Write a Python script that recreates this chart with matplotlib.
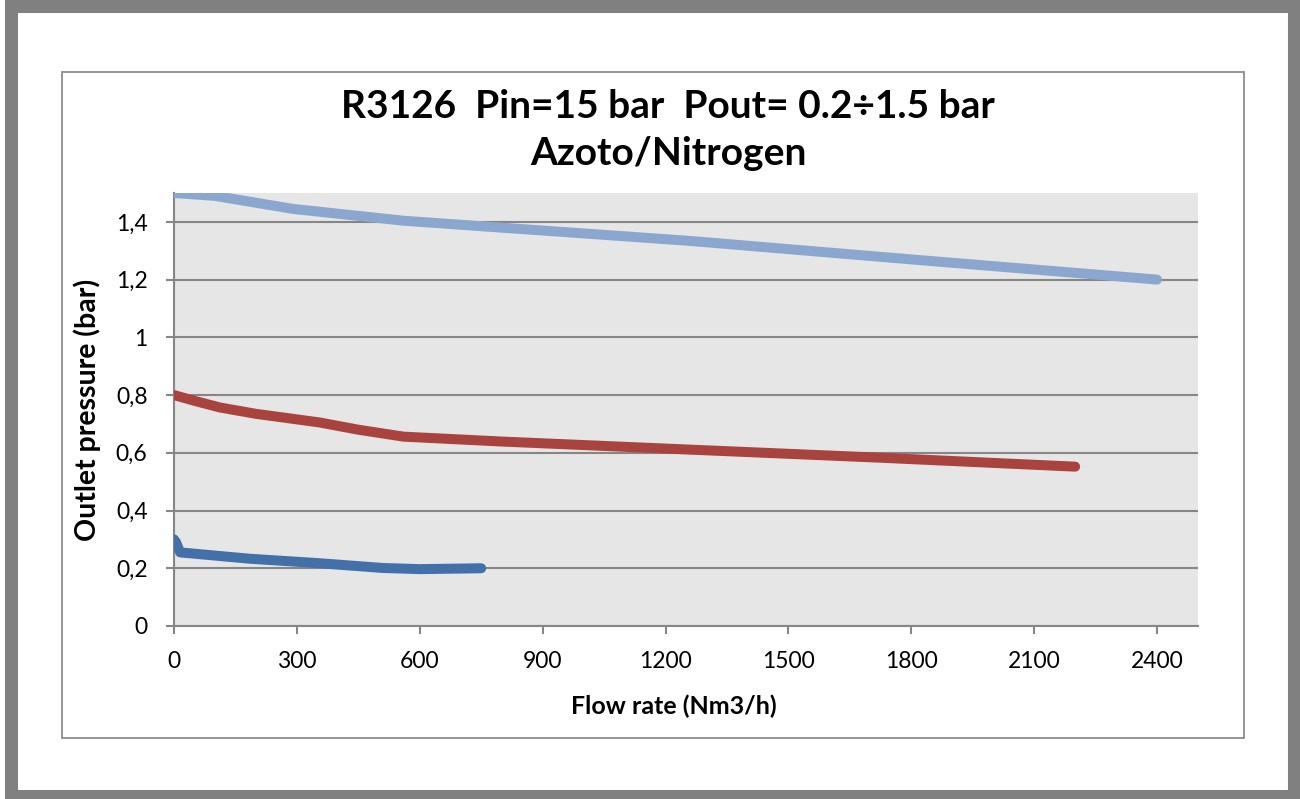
import matplotlib.pyplot as plt
import matplotlib.patches as mpatches
from matplotlib.ticker import FuncFormatter, MultipleLocator

plt.rcParams['font.family'] = ['Lato', 'DejaVu Sans']

# data
flow_15 = [0, 100, 290, 560, 900, 1260, 1800, 2400]
pout_15 = [1.5, 1.49, 1.445, 1.404, 1.37, 1.334, 1.27, 1.2]

flow_08 = [0, 50, 112, 200, 356, 450, 560, 800, 1260, 1724, 2200]
pout_08 = [0.8, 0.78, 0.757, 0.735, 0.705, 0.68, 0.656, 0.639, 0.611, 0.583, 0.552]

flow_02 = [0, 5, 15, 185, 350, 510, 600, 750]
pout_02 = [0.3, 0.29, 0.255, 0.233, 0.218, 0.201, 0.197, 0.2]

title = 'R3126  Pin=15 bar  Pout= 0.2÷1.5 bar\nAzoto/Nitrogen'

W, H = 1300, 799
fig = plt.figure(figsize=(W / 100, H / 100), dpi=100)

# outer thick frame and inner chart frame
fig.patches.append(mpatches.Rectangle((10.5 / W, 3 / H), (1293.5 - 10.5) / W, (793 - 3) / H,
                                      transform=fig.transFigure, fill=False,
                                      edgecolor='#808080', linewidth=9.4))
fig.patches.append(mpatches.Rectangle((62 / W, (H - 738) / H), (1244 - 62) / W, (738 - 72) / H,
                                      transform=fig.transFigure, fill=False,
                                      edgecolor='#8c8c8c', linewidth=1.3))

ax = fig.add_axes([174 / W, (H - 626) / H, (1198 - 174) / W, (626 - 193) / H])
ax.set_facecolor('#e6e6e6')

ax.plot(flow_15, pout_15, color='#8ba7cf', lw=7.2, solid_capstyle='round', zorder=3)
ax.plot(flow_08, pout_08, color='#a9433f', lw=7.2, solid_capstyle='round', zorder=3)
ax.plot(flow_02, pout_02, color='#4370a8', lw=7.2, solid_capstyle='round', zorder=3)

ax.set_xlim(0, 2500)
ax.set_ylim(0, 1.5)
ax.xaxis.set_major_locator(MultipleLocator(300))
ax.set_yticks([0, 0.2, 0.4, 0.6, 0.8, 1.0, 1.2, 1.4])
ax.yaxis.set_major_formatter(FuncFormatter(lambda v, p: f'{v:g}'.replace('.', ',')))
ax.set_xticks([0, 300, 600, 900, 1200, 1500, 1800, 2100, 2400])

ax.grid(axis='y', color='#868686', lw=1.5)
ax.set_axisbelow(True)
for s in ['top', 'right']:
    ax.spines[s].set_visible(False)
for s in ['left', 'bottom']:
    ax.spines[s].set_color('#868686')
    ax.spines[s].set_linewidth(1.5)
ax.tick_params(colors='#868686', width=1.5, length=6, labelcolor='black', labelsize=16.5)
ax.tick_params(axis='y', pad=13)
ax.tick_params(axis='x', pad=12)

ax.set_xlabel('Flow rate (Nm3/h)', fontsize=18, fontweight='bold')
ax.set_ylabel('Outlet pressure (bar)', fontsize=20.5, fontweight='bold', labelpad=11)
ax.xaxis.set_label_coords((674 - 174) / (1198 - 174), -(706 - 626) / (626 - 193))
ax.xaxis.label.set_va('center')

fig.text(668 / W, (H - 130) / H, title, ha='center', va='center', fontsize=28,
         fontweight='bold', linespacing=1.4)

fig.savefig('out.png', dpi=100)
